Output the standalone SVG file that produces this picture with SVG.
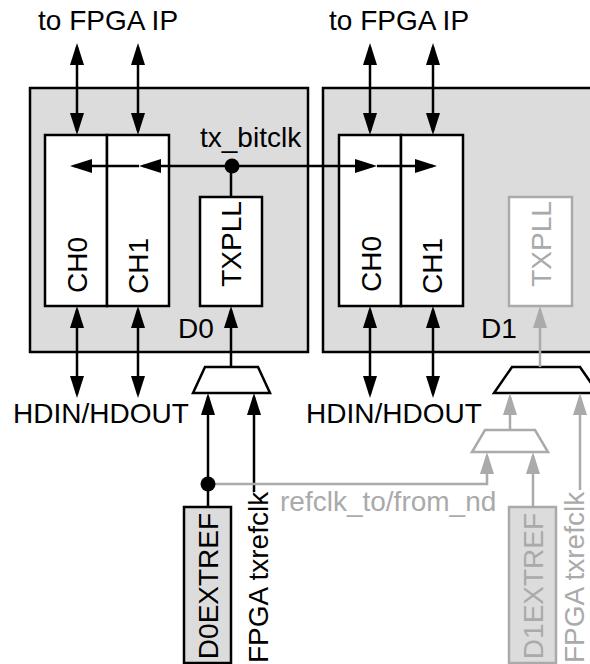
<svg xmlns="http://www.w3.org/2000/svg" width="590" height="664" viewBox="0 0 590 664">
<style>
  text { font-family: "Liberation Sans", Arial, Helvetica, sans-serif; font-size: 28px; fill: #000; }
  .g { fill: #aaaaaa; }
  .die { fill: #dcdcdc; stroke: #000; stroke-width: 2.5; }
  .blk { fill: #fff; stroke: #000; stroke-width: 2.5; }
  .blkg { fill: #fff; stroke: #aaaaaa; stroke-width: 2.5; }
  .ref { fill: #dcdcdc; stroke: #000; stroke-width: 2.5; }
  .refg { fill: #dcdcdc; stroke: #aaaaaa; stroke-width: 2.5; }
  .mux { fill: #fff; stroke: #000; stroke-width: 2.5; stroke-linejoin: miter; }
  .muxg { fill: #fff; stroke: #aaaaaa; stroke-width: 2.5; }
  .w { fill: none; stroke: #000; stroke-width: 2.5; }
  .wg { fill: none; stroke: #aaaaaa; stroke-width: 2.5; }
</style>
<defs>
  <marker id="ah" markerUnits="userSpaceOnUse" viewBox="0 0 22 14" markerWidth="22" markerHeight="14" refX="18" refY="7" orient="auto-start-reverse">
    <path d="M0,0 L22,7 L0,14 z" fill="#000"/>
  </marker>
  <marker id="ahg" markerUnits="userSpaceOnUse" viewBox="0 0 22 14" markerWidth="22" markerHeight="14" refX="18" refY="7" orient="auto-start-reverse">
    <path d="M0,0 L22,7 L0,14 z" fill="#aaaaaa"/>
  </marker>
</defs>

<g id="D0">
  <rect class="die" x="30" y="88" width="278" height="264"/>
  <text x="178" y="338">D0</text>
</g>
<g id="D1">
  <rect class="die" x="323" y="88" width="290" height="264"/>
  <text x="481" y="338">D1</text>
</g>

<g id="D0_CH0">
  <rect class="blk" x="45" y="135" width="62" height="171"/>
  <text transform="translate(87,265) rotate(-90)" text-anchor="middle">CH0</text>
</g>
<g id="D0_CH1">
  <rect class="blk" x="107" y="135" width="62" height="171"/>
  <text transform="translate(148,266) rotate(-90)" text-anchor="middle">CH1</text>
</g>
<g id="D0_TXPLL">
  <rect class="blk" x="200" y="197" width="62" height="109"/>
  <text transform="translate(241,244) rotate(-90)" text-anchor="middle">TXPLL</text>
</g>
<g id="D1_CH0">
  <rect class="blk" x="339" y="135" width="62" height="171"/>
  <text transform="translate(381,264) rotate(-90)" text-anchor="middle">CH0</text>
</g>
<g id="D1_CH1">
  <rect class="blk" x="401" y="135" width="62" height="171"/>
  <text transform="translate(442,266) rotate(-90)" text-anchor="middle">CH1</text>
</g>
<g id="D1_TXPLL">
  <rect class="blkg" x="509" y="197" width="63" height="109"/>
  <text class="g" transform="translate(551,244) rotate(-90)" text-anchor="middle">TXPLL</text>
</g>

<g id="D0_MUX">
  <polygon class="mux" points="205,367 258,367 270,393 193,393"/>
</g>
<g id="D1_MUX">
  <polygon class="mux" points="512,367 580,367 598,393 494,393"/>
</g>
<g id="D1_REFMUX">
  <polygon class="muxg" points="485,430 535,430 548,452 472,452"/>
</g>

<g id="D0EXTREF">
  <rect class="ref" x="184" y="507" width="47" height="156"/>
  <text transform="translate(218,586) rotate(-90)" text-anchor="middle">D0EXTREF</text>
</g>
<g id="D1EXTREF">
  <rect class="refg" x="509" y="507" width="47" height="156"/>
  <text class="g" transform="translate(543,586) rotate(-90)" text-anchor="middle">D1EXTREF</text>
</g>

<g id="labels">
  <text x="38" y="30">to FPGA IP</text>
  <text x="329" y="30">to FPGA IP</text>
  <text x="200" y="147">tx_bitclk</text>
  <text x="13" y="423">HDIN/HDOUT</text>
  <text x="306" y="423">HDIN/HDOUT</text>
  <text transform="translate(268,663) rotate(-90)">FPGA txrefclk</text>
  <text class="g" transform="translate(584,663) rotate(-90)">FPGA txrefclk</text>
  <text class="g" x="280" y="511">refclk_to/from_nd</text>
</g>

<g id="connectors">
  <path class="w" d="M77,47 V131" marker-start="url(#ah)" marker-end="url(#ah)"/>
  <path class="w" d="M138,47 V131" marker-start="url(#ah)" marker-end="url(#ah)"/>
  <path class="w" d="M370,47 V131" marker-start="url(#ah)" marker-end="url(#ah)"/>
  <path class="w" d="M433,47 V131" marker-start="url(#ah)" marker-end="url(#ah)"/>
  <path class="w" d="M77,310 V394" marker-start="url(#ah)" marker-end="url(#ah)"/>
  <path class="w" d="M138,310 V394" marker-start="url(#ah)" marker-end="url(#ah)"/>
  <path class="w" d="M370,310 V394" marker-start="url(#ah)" marker-end="url(#ah)"/>
  <path class="w" d="M433,310 V394" marker-start="url(#ah)" marker-end="url(#ah)"/>
  <path class="w" d="M232,166 H143" marker-end="url(#ah)"/>
  <path class="w" d="M139,166 H74" marker-end="url(#ah)"/>
  <path class="w" d="M232,166 H373" marker-end="url(#ah)"/>
  <path class="w" d="M377,166 H433" marker-end="url(#ah)"/>
  <path class="w" d="M231,197 V166"/>
  <circle cx="232" cy="166" r="7.5" fill="#000"/>
  <path class="w" d="M231,367 V310" marker-end="url(#ah)"/>
  <path class="w" d="M208,507 V397" marker-end="url(#ah)"/>
  <path class="w" d="M254,492 V397" marker-end="url(#ah)"/>
  <path class="wg" d="M208,484 H487 V456" marker-end="url(#ahg)"/>
  <circle cx="208" cy="484" r="7.5" fill="#000"/>
  <path class="wg" d="M540,367 V310" marker-end="url(#ahg)"/>
  <path class="wg" d="M510,430 V397" marker-end="url(#ahg)"/>
  <path class="wg" d="M580,490 V397" marker-end="url(#ahg)"/>
  <path class="wg" d="M533,507 V456" marker-end="url(#ahg)"/>
</g>
</svg>
